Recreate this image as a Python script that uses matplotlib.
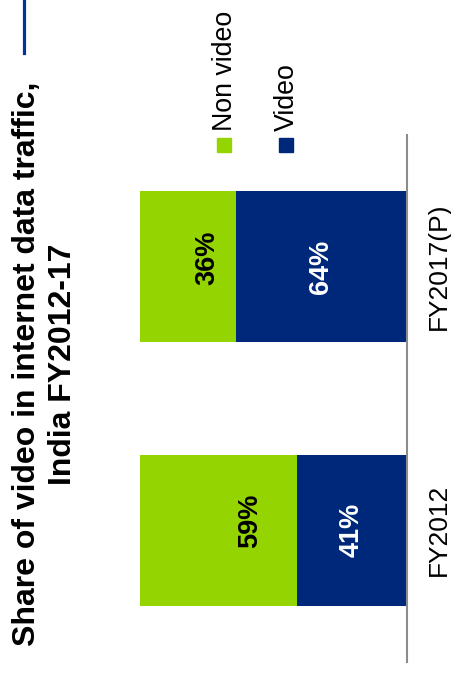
import matplotlib
matplotlib.use("Agg")
import matplotlib.pyplot as plt
from matplotlib.patches import Rectangle
from matplotlib.lines import Line2D

# Data
categories = ["FY2012", "FY2017(P)"]
video = [41, 64]
non_video = [59, 36]
series_names = ["Non video", "Video"]

GREEN = "#94D400"
BLUE = "#00287A"
AXIS_GRAY = "#8C8C8C"

plt.rcParams["font.family"] = ["Liberation Sans", "DejaVu Sans"]

W, H = 451, 673
fig = plt.figure(figsize=(W / 100, H / 100), dpi=100)

# Chart is laid out turned a quarter-turn: bars grow leftwards from the baseline
ax = fig.add_axes([140 / W, 11 / H, 266.7 / W, 527 / H])
pos = list(range(len(categories)))
bar_h = 0.572
ax.barh(pos, video, height=bar_h, color=BLUE, edgecolor="none")
ax.barh(pos, non_video, left=video, height=bar_h, color=GREEN, edgecolor="none")
ax.set_xlim(100, 0)
ax.set_ylim(-0.5, 1.5)
for s in ["left", "top", "bottom"]:
    ax.spines[s].set_visible(False)
ax.spines["right"].set_color(AXIS_GRAY)
ax.spines["right"].set_linewidth(1.5)
ax.set_xticks([])
ax.set_yticks([])

# Value labels
for i in pos:
    v, n = video[i], non_video[i]
    ax.text(v / 2, i, f"{v}%", rotation=90, ha="center", va="center",
            color="white", fontsize=19.5, fontweight="bold")
    ax.text(v + n * 0.3, i + 0.035, f"{n}%", rotation=90, ha="center", va="center",
            color="black", fontsize=19.5, fontweight="bold")

# Category labels beside the baseline
for i, c in zip(pos, categories):
    ax.annotate(c, xy=(0, i), xycoords="data", xytext=(23.5, 0),
                textcoords="offset points", rotation=90, ha="center",
                va="center", fontsize=19, color="black")

# Legend drawn as turned swatches with labels
legend_items = [(series_names[0], GREEN, 217), (series_names[1], BLUE, 279)]
for name, col, x0 in legend_items:
    fig.patches.append(Rectangle((x0 / W, 1 - 152 / H), 14 / W, 14 / H,
                                 transform=fig.transFigure, color=col))
    fig.text((x0 + 7.5) / W, 1 - 131 / H, name, rotation=90, ha="center",
             va="bottom", fontsize=19.3, color="black")

# Title
fig.text(45 / W, 1 - 364 / H, "Share of video in internet data traffic,\nIndia FY2012-17",
         rotation=90, ha="center", va="center", multialignment="center",
         fontsize=23, fontweight="bold", color="black", linespacing=1.25)

# Accent rule at the top edge
fig.lines.append(Line2D([23.5 / W, 23.5 / W], [1, 1 - 53 / H],
                        transform=fig.transFigure, color="#0033A0", linewidth=2.3))

fig.savefig("out.png", dpi=100)
